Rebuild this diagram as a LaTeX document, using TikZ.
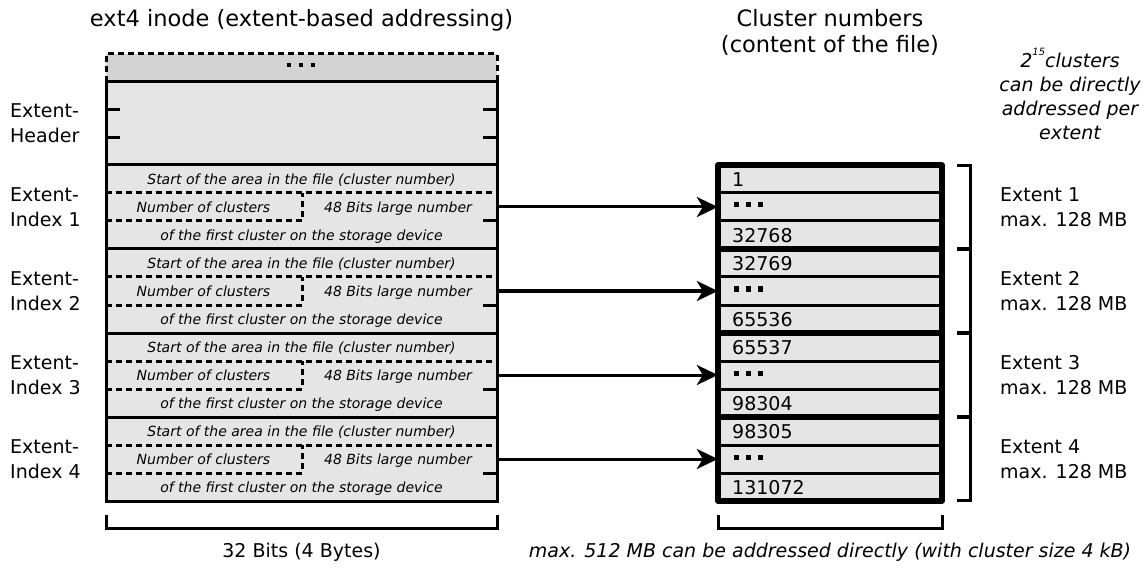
\documentclass[tikz,border=0pt]{standalone}
\usepackage{fontspec}
\setmainfont{DejaVu Sans}
\usetikzlibrary{arrows.meta}
\definecolor{cellgray}{HTML}{E5E5E5}
\definecolor{topgray}{HTML}{D3D3D3}
\begin{document}
\begin{tikzpicture}[x=1pt,y=-1pt,
  lbl/.style={inner sep=0pt, font=\fontsize{19}{25}\selectfont},
  ttl/.style={inner sep=0pt, font=\fontsize{22.5}{26}\selectfont, align=center},
  small/.style={inner sep=0pt, font=\fontsize{14}{16}\selectfont\itshape, anchor=base},
  num/.style={inner sep=0pt, font=\fontsize{19}{22}\selectfont, anchor=base west},
  thin/.style={line width=3pt},
  thickl/.style={line width=5.5pt},
  dsh/.style={line width=3pt, dash pattern=on 6pt off 4pt},
  brk/.style={line width=3pt},
  ptr/.style={line width=3pt, -{Stealth[length=21pt,width=20pt,inset=6pt]}},
  slot/.style={inner sep=0pt, minimum height=28pt},
]
\useasboundingbox (0,0) rectangle (1148,569);

% titles
\node[ttl] (t1) at (301.5,20) {ext4 inode (extent-based addressing)};
\node[ttl] (t2) at (830,32) {Cluster numbers\\(content of the file)};
\node[lbl, font=\fontsize{19}{24}\selectfont\itshape, align=center] (t3) at (1070,94)
  {2\raisebox{1.1ex}{\fontsize{10}{10}\selectfont 15}clusters\\can be directly\\addressed per\\extent};

% top dashed box
\fill[topgray] (106,54) rectangle (497,82);
\draw[dsh] (106,82) -- (106,54) -- (497,54) -- (497,82);
\foreach \x in {289,301,313} \fill (\x-2,63) rectangle (\x+2,67);

% header
\fill[cellgray] (106,82) rectangle (497,165);
\draw[thin] (106,82) rectangle (497,165);
\draw[thin] (106,110) -- (120,110) (106,138) -- (120,138)
            (483,110) -- (497,110) (483,138) -- (497,138);
\node[lbl, anchor=west, align=left] (hl) at (10,123) {Extent-\\Header};

% cluster column background
\fill[cellgray] (718,165) rectangle (942,501);

\foreach \k/\a/\b in {1/1/32768, 2/32769/65536, 3/65537/98304, 4/98305/131072} {
  \pgfmathsetmacro\T{165+84*(\k-1)}
  % left index block
  \fill[cellgray] (106,\T) rectangle (497,\T+84);
  \draw[thin] (106,\T) rectangle (497,\T+84);
  \draw[dsh] (106,\T+28) -- (497,\T+28);
  \draw[dsh] (106,\T+56) -- (302,\T+56) -- (302,\T+28);
  \draw[thin] (483,\T+56) -- (497,\T+56);
  \node[small] (s\k) at (301.5,\T+19.5) {Start of the area in the file (cluster number)};
  \node[small] (c\k) at (203.5,\T+47.5) {Number of clusters};
  \node[small] (b\k) at (398,\T+47.5) {48 Bits large number};
  \node[small] (f\k) at (301.5,\T+75.5) {of the first cluster on the storage device};
  \node[lbl, anchor=west, align=left] (il\k) at (10,\T+42) {Extent-\\Index \k};
  % cluster column
  \draw[thin] (718,\T+28) -- (942,\T+28) (718,\T+56) -- (942,\T+56);
  \node[num] (na\k) at (732,\T+21.5) {\a};
  \node[num] (nb\k) at (732,\T+77.5) {\b};
  \foreach \x in {736,748,760} \fill (\x-2.5,\T+37.5) rectangle (\x+2.5,\T+42.5);
  % pointer
  \node[slot, minimum width=391pt] (src\k) at (301.5,\T+42) {};
  \node[slot, minimum width=224pt] (dst\k) at (830,\T+42) {};
  \draw[ptr] (src\k.east) -- (dst\k.west);
  % extent bracket and label
  \draw[brk] (957,\T+0.5) -- (970,\T+0.5) -- (970,\T+83.5) -- (957,\T+83.5);
  \node[lbl, anchor=west, align=left] (el\k) at (1000,\T+42) {Extent \k\\max. 128 MB};
}
\draw[thickl] (718,249) -- (942,249) (718,333) -- (942,333) (718,417) -- (942,417);
\draw[thickl, line join=round] (718,165) rectangle (942,501);

% bottom brackets
\draw[brk] (106,515) -- (106,528) -- (497,528) -- (497,515);
\draw[brk] (718,515) -- (718,528) -- (942,528) -- (942,515);
\node[lbl] (w1) at (301.5,552) {32 Bits (4 Bytes)};
\node[lbl, font=\fontsize{19}{25}\selectfont\itshape] (w2) at (830,552)
  {max. 512 MB can be addressed directly (with cluster size 4 kB)};
\end{tikzpicture}
\end{document}
